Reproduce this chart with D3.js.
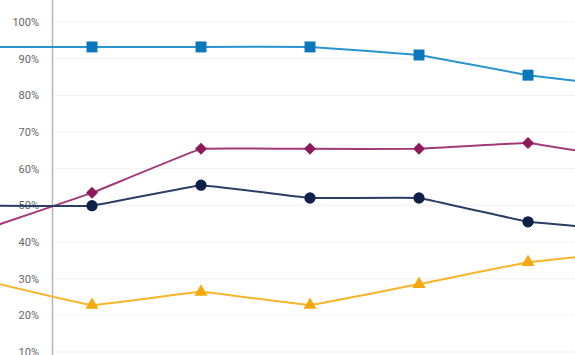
<!DOCTYPE html>
<html>
<head>
<meta charset="utf-8">
<script src="https://cdn.jsdelivr.net/npm/d3@7"></script>
<style>
  body { margin: 0; background: #fff; }
  svg { display: block; }
</style>
</head>
<body>
<div id="chart"></div>
<script>
// index 0 and 6 fall outside the visible window (chart is cropped)
var steps = [0, 1, 2, 3, 4, 5, 6];
var blueVals = [93.2, 93.2, 93.2, 93.2, 91.0, 85.5, 82.0];
var magentaVals = [43.3, 53.4, 65.4, 65.4, 65.4, 67.0, 62.2];
var navyVals = [49.9, 49.9, 55.5, 52.0, 52.0, 45.5, 43.0];
var yellowVals = [29.6, 22.8, 26.4, 22.8, 28.5, 34.5, 37.6];
var yTicks = [10, 20, 30, 40, 50, 60, 70, 80, 90, 100];

var width = 575,
  height = 355;

var svg = d3.select("#chart")
  .append("svg")
  .attr("width", width)
  .attr("height", height);

var x = d3.scaleLinear()
  .domain([1, 5])
  .range([92, 528]);

var y = d3.scaleLinear()
  .domain([10, 100])
  .range([352, 22]);

// grid lines
svg.append("g")
  .selectAll("line")
  .data(yTicks)
  .enter()
  .append("line")
  .attr("x1", 53)
  .attr("x2", width)
  .attr("y1", function (d) { return y(d); })
  .attr("y2", function (d) { return y(d); })
  .style("stroke", "#f1f1f1")
  .style("stroke-width", 1);

// y axis (labels only, custom line)
var yAxis = d3.axisLeft(y)
  .tickValues(yTicks)
  .tickSize(0)
  .tickPadding(13)
  .tickFormat(function (d) { return d + "%"; });

var ag = svg.append("g")
  .attr("transform", "translate(52,0)")
  .call(yAxis);
ag.select(".domain").remove();
ag.selectAll("text")
  .style("font-family", "Roboto, sans-serif")
  .style("font-size", "11px")
  .style("fill", "#666");

svg.append("line")
  .attr("x1", 52.5).attr("x2", 52.5)
  .attr("y1", 0).attr("y2", height)
  .style("stroke", "#b5b5b5")
  .style("stroke-width", 1.5);

var series = [
  { vals: blueVals, line: "#2a94d1", mark: "#0a77bd", sym: d3.symbolSquare, size: 120, rot: 0 },
  { vals: magentaVals, line: "#a33a78", mark: "#8e1a5c", sym: d3.symbolSquare, size: 72, rot: 45 },
  { vals: navyVals, line: "#2a3d66", mark: "#0f2049", sym: d3.symbolCircle, size: 100, rot: 0 },
  { vals: yellowVals, line: "#f9b42a", mark: "#f6a90e", sym: d3.symbolTriangle, size: 75, rot: 0 }
];

var line = d3.line()
  .curve(d3.curveCardinal.tension(0.85))
  .x(function (d, i) { return x(steps[i]); })
  .y(function (d) { return y(d); });

series.forEach(function (s) {
  svg.append("path")
    .datum(s.vals)
    .attr("d", line)
    .style("fill", "none")
    .style("stroke", s.line)
    .style("stroke-width", 2);

  svg.append("g")
    .selectAll("path")
    .data(s.vals.slice(1, 6))
    .enter()
    .append("path")
    .attr("d", d3.symbol().type(s.sym).size(s.size))
    .attr("transform", function (d, i) {
      return "translate(" + x(steps[i + 1]) + "," + y(d) + ")rotate(" + s.rot + ")";
    })
    .style("fill", s.mark);
});
</script>
</body>
</html>
